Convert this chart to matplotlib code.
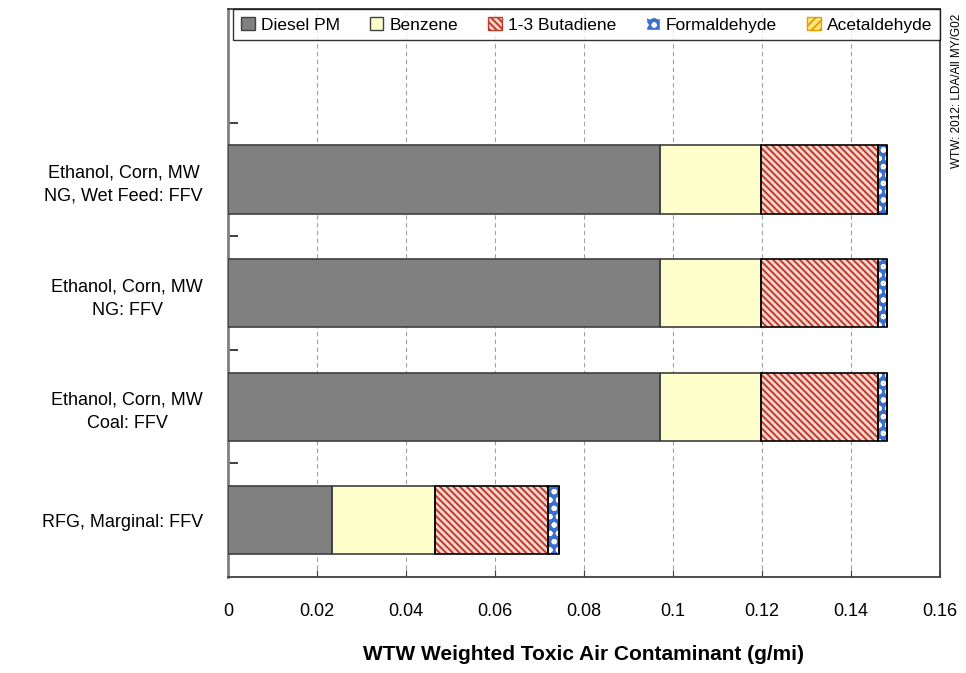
import matplotlib
matplotlib.use("Agg")
import matplotlib.pyplot as plt
from matplotlib.patches import Patch
import numpy as np

plt.rcParams['font.family'] = ['Liberation Sans', 'DejaVu Sans']
plt.rcParams['hatch.linewidth'] = 1.4

categories = ["RFG, Marginal: FFV",
              "Ethanol, Corn, MW\nCoal: FFV",
              "Ethanol, Corn, MW\nNG: FFV",
              "Ethanol, Corn, MW\nNG, Wet Feed: FFV"]
series_names = ["Diesel PM", "Benzene", "1-3 Butadiene", "Formaldehyde", "Acetaldehyde"]
diesel_pm = [0.0234, 0.0972, 0.0972, 0.0972]
benzene = [0.0232, 0.0226, 0.0226, 0.0226]
butadiene = [0.0254, 0.0262, 0.0262, 0.0262]
formaldehyde = [0.0023, 0.0020, 0.0020, 0.0020]
acetaldehyde = [0.0001, 0.0001, 0.0001, 0.0001]
x_ticks = [0, 0.02, 0.04, 0.06, 0.08, 0.1, 0.12, 0.14, 0.16]
x_tick_labels = ["0", "0.02", "0.04", "0.06", "0.08", "0.1", "0.12", "0.14", "0.16"]

styles = [
    dict(face="#808080", hatch=None, hcol="#808080", edge="#404040"),
    dict(face="#FFFFCC", hatch=None, hcol="#FFFFCC", edge="#404040"),
    dict(face="#F6D8D0", hatch="\\\\\\\\\\", hcol="#C0392B", edge="#000000"),
    dict(face="#3A6FCF", hatch="oo", hcol="#FFFFFF", edge="#000000"),
    dict(face="#FFE680", hatch="////", hcol="#E0A000", edge="#000000"),
]

fig = plt.figure(figsize=(9.66, 6.73), dpi=100)
ax = fig.add_axes([0.236, 0.1426, 0.737, 0.8440])

ypos = np.arange(len(categories))
data = [diesel_pm, benzene, butadiene, formaldehyde, acetaldehyde]
left = np.zeros(len(categories))
for vals, st in zip(data, styles):
    vals = np.array(vals)
    ax.barh(ypos, vals, left=left, height=0.6, color=st["face"],
            hatch=st["hatch"], edgecolor=st["hcol"], linewidth=0, zorder=3)
    ax.barh(ypos, vals, left=left, height=0.6, fill=False,
            edgecolor=st["edge"], linewidth=1.2, zorder=4)
    left += vals

ax.set_xlim(0, 0.16)
ax.set_ylim(-0.5, 4.5)
ax.set_xticks(x_ticks)
ax.set_xticklabels(x_tick_labels, fontsize=13)
ax.tick_params(axis='x', direction='in', length=5, pad=19, color='#404040')
ax.xaxis.grid(True, linestyle=(0, (4, 3)), color='#A0A0A0', linewidth=0.8, zorder=0)

ax.set_yticks(ypos)
ax.set_yticklabels(categories, fontsize=13, linespacing=1.5, multialignment='center')
ax.tick_params(axis='y', length=0, pad=18)
ax.set_yticks([0.5, 1.5, 2.5, 3.5], minor=True)
ax.tick_params(axis='y', which='minor', direction='in', length=7, width=1.3,
               color='#303030')

for s in ax.spines.values():
    s.set_color('#404040')
    s.set_linewidth(1.3)
ax.spines['left'].set_color('#808080')
ax.spines['left'].set_linewidth(2)

ax.set_xlabel("WTW Weighted Toxic Air Contaminant (g/mi)", fontsize=15,
              fontweight='bold', labelpad=18)

handles = [Patch(facecolor=st["face"], hatch=st["hatch"],
                 edgecolor=(st["hcol"] if st["hatch"] else "#404040"), linewidth=1.0)
           for st in styles]
leg = ax.legend(handles, series_names, loc='upper left', ncol=5,
                bbox_to_anchor=(0.007, 1.0, 0.993, 0.0), mode='expand',
                fontsize=12.5, frameon=True,
                fancybox=False, edgecolor='#000000', handlelength=0.8,
                handleheight=0.8, handletextpad=0.35, columnspacing=0.9,
                borderpad=0.45, borderaxespad=0.0)
leg.get_frame().set_linewidth(1.0)
leg.set_zorder(10)

fig.text(0.991, 0.865, "WTW: 2012: LDA/All MY/G02", rotation=90, fontsize=8.5,
         ha='center', va='center')

fig.savefig("out.png", dpi=100)
